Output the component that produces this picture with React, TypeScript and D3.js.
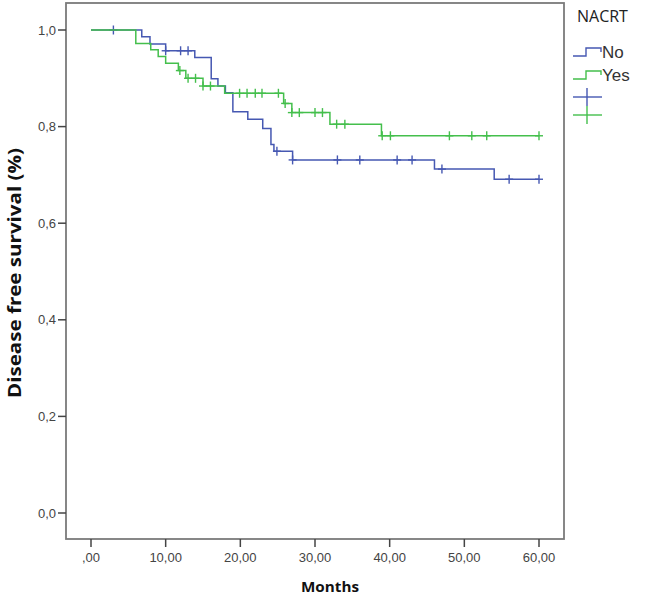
import React from "react";
import * as d3 from "d3";

const xTicks = [0, 10, 20, 30, 40, 50, 60];
const xTickLabels = [",00", "10,00", "20,00", "30,00", "40,00", "50,00", "60,00"];
const yTicks = [0, 0.2, 0.4, 0.6, 0.8, 1.0];
const yTickLabels = ["0,0", "0,2", "0,4", "0,6", "0,8", "1,0"];

// NACRT = No
const noTimes = [0, 6.8, 7.9, 10.0, 13.9, 16.1, 17.0, 18.0, 19.0, 21.0, 23.0, 24.1, 24.5, 27.0, 46.0, 54.0, 60.0];
const noSurv = [1.0, 0.986, 0.971, 0.957, 0.943, 0.899, 0.884, 0.87, 0.831, 0.815, 0.796, 0.763, 0.749, 0.731, 0.712, 0.691, 0.691];
const noCensor = [3, 10, 12, 13, 24.9, 27, 33, 36, 41, 43, 47, 56, 60];

// NACRT = Yes
const yesTimes = [0, 6.0, 8.0, 9.0, 10.0, 11.7, 12.7, 15.0, 17.9, 25.8, 26.9, 32.0, 38.9, 60.0];
const yesSurv = [1.0, 0.972, 0.959, 0.945, 0.931, 0.916, 0.9, 0.884, 0.869, 0.848, 0.829, 0.805, 0.781, 0.781];
const yesCensor = [11.9, 13, 14, 15, 16, 19.9, 20.9, 22, 22.9, 25.1, 26, 26.9, 27.9, 30, 31, 32.9, 34, 39, 40.1, 48, 51, 53, 60];

const groups = ["No", "Yes"];
const colors = ["#4658b2", "#44bf4c"];

function survAt(times: number[], surv: number[], t: number) {
  let s = surv[0];
  for (let i = 0; i < times.length; i++) if (times[i] <= t + 1e-9) s = surv[i];
  return s;
}

export default function App() {
  const W = 645, H = 596;
  const frame = { x0: 66, x1: 564, y0: 3, y1: 539 };
  const x = d3.scaleLinear().domain([0, 60]).range([91, 539]);
  const y = d3.scaleLinear().domain([0, 1]).range([513, 30]);
  const line = d3.line<[number, number]>().x(d => x(d[0])).y(d => y(d[1])).curve(d3.curveStepAfter);
  const series = [
    { times: noTimes, surv: noSurv, cens: noCensor },
    { times: yesTimes, surv: yesSurv, cens: yesCensor },
  ];
  const font = "'Liberation Sans', Arial, sans-serif";
  const titleFont = "'Open Sans', 'Noto Sans', sans-serif";
  return (
    <svg width={W} height={H} style={{ position: "absolute", left: 0, top: 0, background: "#fff" }}>
      <rect x={frame.x0} y={frame.y0} width={frame.x1 - frame.x0} height={frame.y1 - frame.y0} fill="none" stroke="#7a7a7a" strokeWidth={1.8} />
      {yTicks.map((v, i) => (
        <g key={"y" + i}>
          <line x1={58} x2={frame.x0} y1={y(v)} y2={y(v)} stroke="#444" strokeWidth={1.5} />
          <text x={56} y={y(v) + 4.5} textAnchor="end" fontSize={13} fontFamily={font} fill="#444">{yTickLabels[i]}</text>
        </g>
      ))}
      {xTicks.map((v, i) => (
        <g key={"x" + i}>
          <line x1={x(v)} x2={x(v)} y1={frame.y1} y2={frame.y1 + 8} stroke="#444" strokeWidth={1.5} />
          <text x={x(v)} y={562} textAnchor="middle" fontSize={13} fontFamily={font} fill="#444">{xTickLabels[i]}</text>
        </g>
      ))}
      <text x={330} y={592} textAnchor="middle" fontSize={15} fontWeight="bold" fontFamily={titleFont} fill="#111" textLength={58} lengthAdjust="spacingAndGlyphs">Months</text>
      <text transform={`translate(21,${273}) rotate(-90)`} textAnchor="middle" fontSize={17} fontWeight="bold" fontFamily={titleFont} fill="#111" textLength={250} lengthAdjust="spacingAndGlyphs">Disease free survival (%)</text>
      {series.map((s, gi) => {
        const pts: [number, number][] = s.times.map((t, i) => [t, s.surv[i]]);
        return (
          <g key={"s" + gi}>
            <path d={line(pts) || ""} fill="none" stroke={colors[gi]} strokeWidth={1.5} />
            {s.cens.map((c, ci) => {
              const cx = x(c), cy = y(survAt(s.times, s.surv, c));
              return (
                <g key={ci} stroke={colors[gi]} strokeWidth={1.4}>
                  <line x1={cx - 4} x2={cx + 4} y1={cy} y2={cy} />
                  <line x1={cx} x2={cx} y1={cy - 4.5} y2={cy + 4.5} />
                </g>
              );
            })}
          </g>
        );
      })}
      <text x={577} y={22} fontSize={16} fontFamily={titleFont} fill="#222">NACRT</text>
      {groups.map((g, i) => {
        const by = 56 + i * 23;
        return (
          <g key={"l" + i}>
            <path d={`M573,${by} H586 V${by - 8} H601 V${by - 4}`} fill="none" stroke={colors[i]} strokeWidth={1.4} />
            <text x={602} y={by + 2} fontSize={17} fontFamily={font} fill="#333">{g}</text>
          </g>
        );
      })}
      {groups.map((g, i) => {
        const cy = 97 + i * 18;
        return (
          <g key={"c" + i} stroke={colors[i]} strokeWidth={1.4}>
            <line x1={573} x2={602} y1={cy} y2={cy} />
            <line x1={587} x2={587} y1={cy - 9} y2={cy + 9} />
          </g>
        );
      })}
    </svg>
  );
}
